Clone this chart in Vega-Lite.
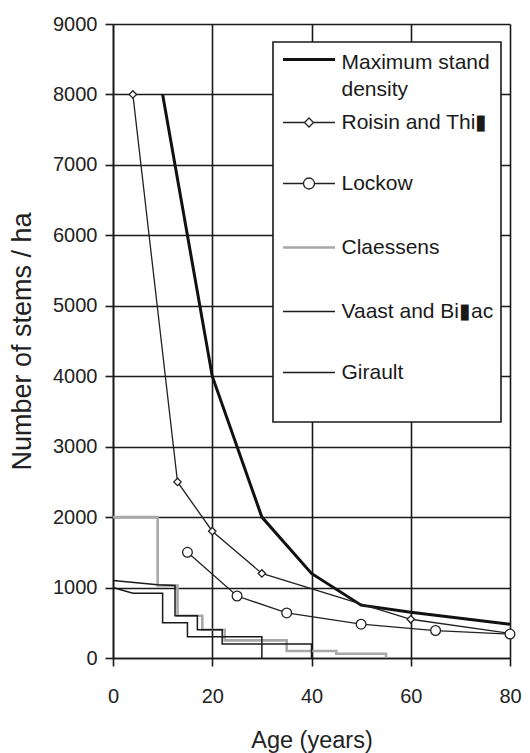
{
  "$schema": "https://vega.github.io/schema/vega-lite/v6.json",
  "width": 397,
  "height": 634,
  "autosize": {"type": "none"},
  "padding": {"left": 113, "top": 24, "right": 20, "bottom": 95},
  "background": "white",
  "config": {
    "view": {"stroke": null},
    "font": "Liberation Sans",
    "axis": {
      "grid": true,
      "gridColor": "#1a1a1a",
      "gridWidth": 1.6,
      "gridOpacity": 1,
      "domainColor": "#1a1a1a",
      "domainWidth": 1.6,
      "tickColor": "#1a1a1a",
      "tickWidth": 1.6,
      "tickSize": 8,
      "labelFont": "Liberation Sans",
      "labelFontSize": 20,
      "labelColor": "#222",
      "titleFont": "Liberation Sans",
      "titleFontWeight": "normal",
      "titleColor": "#222",
      "labelFlush": false,
      "labelOverlap": false
    }
  },
  "datasets": {
    "curves": [
      {"s": "Maximum stand density", "age": 10, "n": 8000},
      {"s": "Maximum stand density", "age": 20, "n": 4000},
      {"s": "Maximum stand density", "age": 30, "n": 2000},
      {"s": "Maximum stand density", "age": 40, "n": 1200},
      {"s": "Maximum stand density", "age": 50, "n": 750},
      {"s": "Maximum stand density", "age": 60, "n": 650},
      {"s": "Maximum stand density", "age": 80, "n": 480},
      {"s": "Roisin and Thi▮", "age": 4, "n": 8000},
      {"s": "Roisin and Thi▮", "age": 13, "n": 2500},
      {"s": "Roisin and Thi▮", "age": 20, "n": 1800},
      {"s": "Roisin and Thi▮", "age": 30, "n": 1200},
      {"s": "Roisin and Thi▮", "age": 60, "n": 550},
      {"s": "Roisin and Thi▮", "age": 80, "n": 350},
      {"s": "Lockow", "age": 15, "n": 1500},
      {"s": "Lockow", "age": 25, "n": 880},
      {"s": "Lockow", "age": 35, "n": 640},
      {"s": "Lockow", "age": 50, "n": 480},
      {"s": "Lockow", "age": 65, "n": 390},
      {"s": "Lockow", "age": 80, "n": 340},
      {"s": "Claessens", "age": 0, "n": 2000},
      {"s": "Claessens", "age": 9, "n": 2000},
      {"s": "Claessens", "age": 9, "n": 1030},
      {"s": "Claessens", "age": 13, "n": 1030},
      {"s": "Claessens", "age": 13, "n": 600},
      {"s": "Claessens", "age": 18, "n": 600},
      {"s": "Claessens", "age": 18, "n": 400},
      {"s": "Claessens", "age": 22.5, "n": 400},
      {"s": "Claessens", "age": 22.5, "n": 250},
      {"s": "Claessens", "age": 35, "n": 250},
      {"s": "Claessens", "age": 35, "n": 100},
      {"s": "Claessens", "age": 45, "n": 100},
      {"s": "Claessens", "age": 45, "n": 60},
      {"s": "Claessens", "age": 55, "n": 60},
      {"s": "Claessens", "age": 55, "n": 0},
      {"s": "Vaast and Bi▮ac", "age": 0, "n": 1100},
      {"s": "Vaast and Bi▮ac", "age": 9, "n": 1040},
      {"s": "Vaast and Bi▮ac", "age": 12.5, "n": 1030},
      {"s": "Vaast and Bi▮ac", "age": 12.5, "n": 600},
      {"s": "Vaast and Bi▮ac", "age": 17, "n": 600},
      {"s": "Vaast and Bi▮ac", "age": 17, "n": 400},
      {"s": "Vaast and Bi▮ac", "age": 22, "n": 400},
      {"s": "Vaast and Bi▮ac", "age": 22, "n": 200},
      {"s": "Vaast and Bi▮ac", "age": 40, "n": 200},
      {"s": "Vaast and Bi▮ac", "age": 40, "n": 0},
      {"s": "Girault", "age": 0, "n": 1000},
      {"s": "Girault", "age": 4, "n": 920},
      {"s": "Girault", "age": 10, "n": 920},
      {"s": "Girault", "age": 10, "n": 500},
      {"s": "Girault", "age": 15, "n": 500},
      {"s": "Girault", "age": 15, "n": 300},
      {"s": "Girault", "age": 30, "n": 300},
      {"s": "Girault", "age": 30, "n": 0}
    ]
  },
  "data": {"name": "curves"},
  "layer": [
    {
      "mark": {"type": "line"},
      "encoding": {
        "x": {
          "field": "age",
          "type": "quantitative",
          "scale": {"domain": [0, 80], "nice": false},
          "axis": {
            "values": [0, 20, 40, 60, 80],
            "title": "Age (years)",
            "titleFontSize": 23.5,
            "labelPadding": 20,
            "titlePadding": 22
          }
        },
        "y": {
          "field": "n",
          "type": "quantitative",
          "scale": {"domain": [0, 9000], "nice": false},
          "axis": {
            "values": [0, 1000, 2000, 3000, 4000, 5000, 6000, 7000, 8000, 9000],
            "format": "d",
            "title": "Number of stems / ha",
            "titleFontSize": 27,
            "labelPadding": 8,
            "titlePadding": 16
          }
        },
        "order": {"value": null},
        "color": {
          "field": "s",
          "type": "nominal",
          "scale": {
            "domain": ["Maximum stand density", "Roisin and Thi▮", "Lockow", "Claessens", "Vaast and Bi▮ac", "Girault"],
            "range": ["#111111", "#222222", "#222222", "#a8a8a8", "#1a1a1a", "#1a1a1a"]
          },
          "legend": {
            "orient": "none",
            "legendX": 160,
            "legendY": 18,
            "title": null,
            "padding": 7,
            "rowPadding": -12,
            "symbolSize": 4,
            "symbolOffset": 18.5,
            "labelOffset": 22,
            "labelFont": "Liberation Sans",
            "labelFontSize": 21,
            "labelColor": "#1a1a1a",
            "labelLimit": 400,
            "strokeColor": "#1a1a1a",
            "fillColor": "white",
            "labelExpr": "datum.label == 'Maximum stand density' ? ['Maximum stand', 'density'] : datum.label",
            "encode": {
              "legend": {"update": {"strokeWidth": {"value": 1.6}}},
              "symbols": {
                "update": {
                  "shape": {"signal": "datum.value == 'Maximum stand density' ? 'M-26,0H26' : datum.value == 'Roisin and Thi▮' ? 'M0,-31.5M0,35.5M-26,0H-4.5M4.5,0H26M0,-4.5L4.5,0L0,4.5L-4.5,0Z' : datum.value == 'Lockow' ? 'M0,-31.5M0,35.5M-26,0H-5.5M5.5,0H26M-5.5,0A5.5,5.5,0,1,1,5.5,0A5.5,5.5,0,1,1,-5.5,0Z' : datum.value == 'Girault' ? 'M0,-31.5M0,39M-26,0H26' : 'M0,-31.5M0,35.5M-26,0H26'"},
                  "strokeWidth": {"signal": "datum.value == 'Maximum stand density' ? 4 : datum.value == 'Claessens' ? 3.5 : 1.4"},
                  "fill": {"value": "white"},
                  "opacity": {"value": 1}
                }
              },
              "labels": {
                "update": {
                  "dy": {"signal": "datum.value == 'Maximum stand density' ? 3 : 0"},
                  "lineHeight": {"value": 27}
                }
              }
            }
          }
        },
        "strokeWidth": {
          "field": "s",
          "type": "nominal",
          "scale": {
            "type": "ordinal",
            "domain": ["Maximum stand density", "Roisin and Thi▮", "Lockow", "Claessens", "Vaast and Bi▮ac", "Girault"],
            "range": [3, 1.3, 1.3, 2.6, 1.5, 1.5]
          },
          "legend": null
        }
      }
    },
    {
      "transform": [{"filter": {"field": "s", "oneOf": ["Roisin and Thi▮", "Lockow"]}}],
      "mark": {"type": "point", "filled": true, "fill": "white", "stroke": "#222222", "strokeWidth": 1.3, "opacity": 1},
      "encoding": {
        "x": {"field": "age", "type": "quantitative"},
        "y": {"field": "n", "type": "quantitative"},
        "shape": {
          "field": "s",
          "type": "nominal",
          "scale": {"domain": ["Roisin and Thi▮", "Lockow"], "range": ["diamond", "circle"]},
          "legend": null
        },
        "size": {
          "field": "s",
          "type": "nominal",
          "scale": {"type": "ordinal", "domain": ["Roisin and Thi▮", "Lockow"], "range": [55, 95]},
          "legend": null
        }
      }
    }
  ]
}
